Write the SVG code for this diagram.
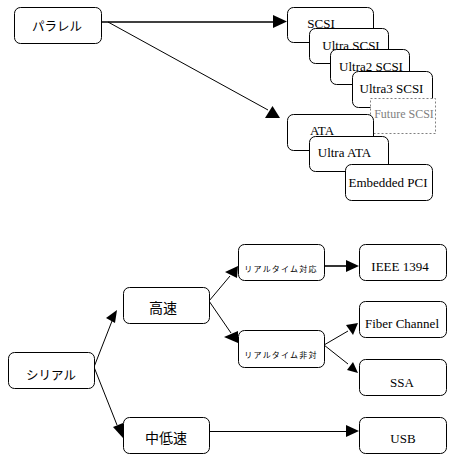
<svg xmlns="http://www.w3.org/2000/svg" width="453" height="463" viewBox="0 0 453 463">
<style>
.bx{fill:#fff;stroke:#000;stroke-width:1}
.fut{fill:#fff;stroke:#808080;stroke-width:1;stroke-dasharray:2 2}
.ln{stroke:#000;stroke-width:1;fill:none}
.hl{stroke:#000;stroke-width:1.6;fill:none}
.ah{fill:#000;stroke:none}
.lt{font-family:"Liberation Serif","Times New Roman",serif;font-size:13px;fill:#000;text-anchor:middle}
.jp{font-family:"Noto Sans CJK JP","Noto Sans",sans-serif;font-size:12.5px;fill:#000;text-anchor:middle}
.jb{font-family:"Noto Sans CJK JP","Noto Sans",sans-serif;font-size:14px;fill:#000;text-anchor:middle}
.js{font-family:"Noto Sans CJK JP","Noto Sans",sans-serif;font-size:8px;letter-spacing:1.2px;fill:#000;text-anchor:middle}
.gray{fill:#808080;font-size:12px}
</style>
<rect width="453" height="463" fill="#fff"/>
<g id="connectors">
<line class="hl" x1="101" y1="22" x2="274" y2="22"/>
<polygon class="ah" points="273,15 287,21.5 273,28"/>
<line class="ln" x1="108" y1="22" x2="268" y2="110"/>
<polygon class="ah" points="272.5,106 265,118 280,118"/>
<line class="ln" x1="94" y1="367" x2="112" y2="321"/>
<polygon class="ah" points="117,310 106,318 115,323"/>
<line class="ln" x1="94" y1="367" x2="117" y2="425"/>
<polygon class="ah" points="113,427 123,423 123,438"/>
<line class="ln" x1="209" y1="301" x2="230" y2="276"/>
<polygon class="ah" points="225,272 238,266 237,278"/>
<line class="ln" x1="209" y1="301" x2="231" y2="333"/>
<polygon class="ah" points="224,337 238,331 238,343"/>
<line class="hl" x1="324" y1="266" x2="347" y2="266"/>
<polygon class="ah" points="346,260 359,266 346,272"/>
<line class="ln" x1="324" y1="345" x2="348" y2="331"/>
<polygon class="ah" points="346,325 358,323 353,335"/>
<line class="ln" x1="324" y1="345" x2="348" y2="364"/>
<polygon class="ah" points="347,370 353,362 358,373"/>
<line class="ln" x1="209" y1="431.5" x2="347" y2="431.5"/>
<polygon class="ah" points="346,425 359,431 346,437"/>
</g>
<g id="parallel"><rect class="bx" x="14.5" y="7.5" width="87" height="36" rx="6"/><text class="jp" x="57" y="31">パラレル</text></g>
<g id="scsi"><rect class="bx" x="287.5" y="7.5" width="86" height="35" rx="6"/><text class="lt" x="321" y="28">SCSI</text></g>
<g id="ultra-scsi"><rect class="bx" x="309.5" y="28.5" width="79" height="35" rx="6"/><text class="lt" x="351" y="50">Ultra SCSI</text></g>
<g id="ultra2-scsi"><rect class="bx" x="330.5" y="49.5" width="79" height="35" rx="6"/><text class="lt" x="371" y="71">Ultra2 SCSI</text></g>
<g id="ultra3-scsi"><rect class="bx" x="352.5" y="71.5" width="80" height="36" rx="6"/><text class="lt" x="391.5" y="93">Ultra3 SCSI</text></g>
<g id="future-scsi"><rect class="fut" x="370.5" y="98.5" width="65" height="35"/><text class="lt gray" x="404" y="118">Future SCSI</text></g>
<g id="ata"><rect class="bx" x="287.5" y="114.5" width="86" height="36" rx="6"/><text class="lt" x="322" y="135">ATA</text></g>
<g id="ultra-ata"><rect class="bx" x="309.5" y="136.5" width="79" height="35" rx="6"/><text class="lt" x="344.5" y="157">Ultra ATA</text></g>
<g id="embedded-pci"><rect class="bx" x="345.5" y="164.5" width="87" height="36" rx="6"/><text class="lt" x="388" y="187">Embedded PCI</text></g>
<g id="serial"><rect class="bx" x="8.5" y="352.5" width="86" height="36" rx="6"/><text class="jp" x="51" y="380">シリアル</text></g>
<g id="fast"><rect class="bx" x="123.5" y="287.5" width="86" height="36" rx="6"/><text class="jb" x="163" y="313">高速</text></g>
<g id="slow"><rect class="bx" x="123.5" y="417.5" width="86" height="36" rx="6"/><text class="jb" x="166" y="443">中低速</text></g>
<g id="realtime"><rect class="bx" x="238.5" y="244.5" width="86" height="36" rx="6"/><text class="js" x="281" y="272">リアルタイム対応</text></g>
<g id="non-realtime"><rect class="bx" x="238.5" y="330.5" width="86" height="37" rx="6"/><text class="js" x="281" y="358">リアルタイム非対</text></g>
<g id="ieee1394"><rect class="bx" x="359.5" y="244.5" width="87" height="36" rx="6"/><text class="lt" x="400" y="271">IEEE 1394</text></g>
<g id="fiber-channel"><rect class="bx" x="359.5" y="301.5" width="87" height="36" rx="6"/><text class="lt" x="402" y="328">Fiber Channel</text></g>
<g id="ssa"><rect class="bx" x="359.5" y="359.5" width="87" height="36" rx="6"/><text class="lt" x="402" y="387">SSA</text></g>
<g id="usb"><rect class="bx" x="359.5" y="417.5" width="87" height="36" rx="6"/><text class="lt" x="403" y="443">USB</text></g>
</svg>
